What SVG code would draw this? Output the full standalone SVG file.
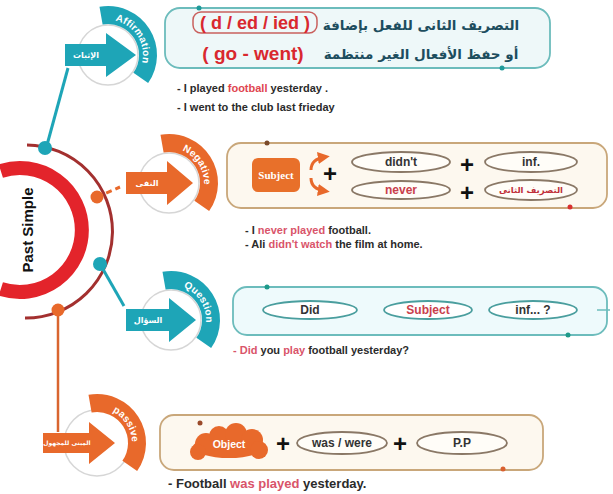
<svg xmlns="http://www.w3.org/2000/svg" width="613" height="494" viewBox="0 0 613 494">
<style>
.en{font-family:"Liberation Sans",Arial,sans-serif;font-weight:bold}
.ar{font-family:"DejaVu Sans",sans-serif;font-weight:bold}
.sent{font-size:11px;fill:#2b2b2b}
.red{fill:#e0454f}
.pink{fill:#d9546a}
.ring{fill:none;stroke:#d6d6d6;stroke-width:1.5}
.band{fill:none;stroke-width:18}
.bandtxt{font-size:10px;fill:#fff;letter-spacing:0.2px}
.lbl{font-size:8px;fill:#fff}
.lbl.sm{font-size:6px}
.plus{font-size:24px;fill:#111}
.elN{fill:#fffdf8;stroke:#8a7866;stroke-width:1.8}
.elQ{fill:#fff;stroke:#4a9e9e;stroke-width:1.8}
.etxt{font-size:12px;fill:#333}
.etxt.rd{fill:#c9404c}
.orng{fill:#e8692b}
</style>
<defs>
<path id="bandArc" d="M -6.95 -39.39 A 40 40 0 0 1 32.77 22.94"/>
<path id="txtArc" d="M -6.08 -34.47 A 35 35 0 0 1 28.67 20.08"/>
<marker id="ah" viewBox="0 0 10 10" refX="6" refY="5" markerWidth="4" markerHeight="4" orient="auto">
<path d="M0 0 L10 5 L0 10 z" fill="#e8692b"/>
</marker>
</defs>

<rect width="613" height="494" fill="#fff"/>

<!-- central hub -->
<g id="past-simple">
<path d="M 0.8 171 A 62 62 0 1 1 0.8 289" fill="none" stroke="#e3242b" stroke-width="14"/>
<text class="en" x="0" y="0" font-size="15" fill="#111" text-anchor="middle" transform="translate(33,230) rotate(-90)">Past Simple</text>
</g>

<!-- connectors -->
<g id="connectors">
<path d="M 27 145 A 86 86 0 0 1 25 318" fill="none" stroke="#a3302f" stroke-width="3"/>
<line x1="47" y1="145" x2="68" y2="68" stroke="#1ea5b7" stroke-width="3"/>
<line x1="97" y1="197" x2="120" y2="187" stroke="#e8692b" stroke-width="3" stroke-dasharray="6 4"/>
<line x1="100" y1="264" x2="124" y2="306" stroke="#1ea5b7" stroke-width="3"/>
<line x1="58" y1="310" x2="58" y2="432" stroke="#d9652f" stroke-width="2.5"/>
<circle cx="45" cy="148" r="7" fill="#1ea5b7"/>
<circle cx="97" cy="197" r="6.5" fill="#e8692b"/>
<circle cx="100" cy="264" r="7" fill="#1ea5b7"/>
<circle cx="58" cy="310" r="6.5" fill="#e8692b"/>
</g>

<!-- Affirmation -->
<g id="affirmation" transform="translate(108,55)">
<circle class="ring" r="30"/>
<use href="#bandArc" class="band" stroke="#1ea5b7"/>
<text class="en bandtxt"><textPath href="#txtArc" startOffset="50%" text-anchor="middle">Affirmation</textPath></text>
<path d="M -43 -11 H -2 V -22 L 28 0 L -2 22 V 11 H -43 z" fill="#1ea5b7"/>
<text class="ar lbl" x="-22" y="3" text-anchor="middle">الإثبات</text>
</g>
<g id="affirmation-box">
<rect x="165" y="8" width="385" height="60" rx="15" fill="#eef8f9" stroke="#6cbcbc" stroke-width="1.8"/>
<circle cx="199" cy="8" r="2.5" fill="#1e9a9a"/>
<circle cx="502" cy="68" r="2.5" fill="#1e9a9a"/>
<rect x="193" y="12" width="124" height="21" rx="8" fill="none" stroke="#c9605e" stroke-width="1.5"/>
<text class="en" x="255" y="29" font-size="18" fill="#d9282f" text-anchor="middle">( d / ed / ied )</text>
<text class="en" x="253" y="60" font-size="19" fill="#d9282f" text-anchor="middle">( go - went)</text>
<text class="ar" x="421" y="30" font-size="13.5" fill="#1d4e5f" text-anchor="middle">التصريف الثانى للفعل بإضافة</text>
<text class="ar" x="421" y="59" font-size="13.5" fill="#1d4e5f" text-anchor="middle">أو حفظ الأفعال الغير منتظمة</text>
<text class="en sent" x="177" y="92">- I played <tspan class="red">football</tspan> yesterday .</text>
<text class="en sent" x="177" y="111">- I went to the club last frieday</text>
</g>

<!-- Negative -->
<g id="negative" transform="translate(169,183)">
<circle class="ring" r="30"/>
<use href="#bandArc" class="band" stroke="#e8692b"/>
<text class="en bandtxt"><textPath href="#txtArc" startOffset="50%" text-anchor="middle">Negative</textPath></text>
<path d="M -43 -11 H -2 V -22 L 24 0 L -2 22 V 11 H -43 z" fill="#e8692b"/>
<text class="ar lbl" x="-22" y="3" text-anchor="middle">النفى</text>
</g>
<g id="negative-box">
<rect x="227" y="143" width="380" height="65" rx="14" fill="#fdf8ef" stroke="#c9a77a" stroke-width="1.8"/>
<circle cx="267" cy="143" r="2.5" fill="#7a4a2a"/>
<circle cx="570" cy="207" r="2.5" fill="#d9302f"/>
<rect x="252" y="158" width="48" height="34" rx="6" fill="#e8702a"/>
<text x="276" y="179" font-family="Liberation Serif,serif" font-weight="bold" font-size="11" fill="#fff" text-anchor="middle">Subject</text>
<path d="M 311 170 Q 311 159 325 157" fill="none" stroke="#e8692b" stroke-width="3" marker-end="url(#ah)"/>
<path d="M 311 178 Q 311 189 325 191" fill="none" stroke="#e8692b" stroke-width="3" marker-end="url(#ah)"/>
<text class="en plus" x="330" y="182" text-anchor="middle">+</text>
<ellipse class="elN" cx="401" cy="162" rx="49" ry="10"/>
<text class="en etxt" x="401" y="166" text-anchor="middle">didn't</text>
<text class="en plus" x="467" y="173" text-anchor="middle">+</text>
<ellipse class="elN" cx="531" cy="162" rx="46" ry="10"/>
<text class="en etxt" x="531" y="166" text-anchor="middle">inf.</text>
<ellipse class="elN" cx="401" cy="190" rx="49" ry="9"/>
<text class="en etxt rd" x="401" y="194" text-anchor="middle">never</text>
<text class="en plus" x="467" y="201" text-anchor="middle">+</text>
<ellipse class="elN" cx="531" cy="190" rx="46" ry="10"/>
<text class="ar" x="531" y="193" font-size="8.5" fill="#c0303a" text-anchor="middle">التصريف الثانى</text>
<text class="en sent" x="245" y="234">- I <tspan class="pink">never played</tspan> football.</text>
<text class="en sent" x="245" y="248">- Ali <tspan class="pink">didn't watch</tspan> the film at home.</text>
</g>

<!-- Question -->
<g id="question" transform="translate(171,320)">
<circle class="ring" r="30"/>
<use href="#bandArc" class="band" stroke="#1ea5b7"/>
<text class="en bandtxt"><textPath href="#txtArc" startOffset="50%" text-anchor="middle">Question</textPath></text>
<path d="M -45 -11 H -2 V -22 L 25 0 L -2 22 V 11 H -45 z" fill="#1ea5b7"/>
<text class="ar lbl" x="-23" y="3" text-anchor="middle">السؤال</text>
</g>
<g id="question-box">
<rect x="233" y="287" width="374" height="48" rx="14" fill="#eefafc" stroke="#6cbcbc" stroke-width="1.8"/>
<line x1="597" y1="310" x2="610" y2="310" stroke="#6cbcbc" stroke-width="1.5"/>
<circle cx="267" cy="287" r="2.5" fill="#1e9a8a"/>
<circle cx="568" cy="335" r="2.5" fill="#1e9a8a"/>
<ellipse class="elQ" cx="310" cy="310" rx="47" ry="9"/>
<text class="en etxt" x="310" y="314" text-anchor="middle">Did</text>
<ellipse class="elQ" cx="428" cy="310" rx="44" ry="9"/>
<text class="en etxt rd" x="428" y="314" text-anchor="middle">Subject</text>
<ellipse class="elQ" cx="533" cy="310" rx="44" ry="9"/>
<text class="en etxt" x="533" y="314" text-anchor="middle">inf... ?</text>
<text class="en sent" x="233" y="354"><tspan class="pink">- Did</tspan> you <tspan class="pink">play</tspan> football yesterday?</text>
</g>

<!-- Passive -->
<g id="passive" transform="translate(97,443)">
<circle class="ring" r="33"/>
<use href="#bandArc" class="band" stroke="#e8692b"/>
<text class="en bandtxt"><textPath href="#txtArc" startOffset="50%" text-anchor="middle">passive</textPath></text>
<path d="M -54 -10 H -8 V -21 L 18 0 L -8 21 V 10 H -54 z" fill="#e8692b"/>
<text class="ar lbl sm" x="-30" y="2" text-anchor="middle">المبنى للمجهول</text>
</g>
<g id="passive-box">
<rect x="160" y="415" width="383" height="55" rx="14" fill="#fdf8ef" stroke="#c9a77a" stroke-width="1.8"/>
<circle cx="200" cy="423" r="2.5" fill="#9a4a2a"/>
<circle cx="503" cy="469" r="2.5" fill="#d9602f"/>
<g class="orng">
<ellipse cx="229" cy="447" rx="36" ry="11"/>
<circle cx="206" cy="444" r="11"/>
<circle cx="219" cy="436" r="10"/>
<circle cx="236" cy="434" r="11"/>
<circle cx="252" cy="440" r="11"/>
<circle cx="259" cy="450" r="9"/>
<circle cx="198" cy="452" r="8"/>
</g>
<text class="en" x="229" y="448" font-size="10.5" fill="#fff" text-anchor="middle">Object</text>
<text class="en plus" x="283" y="452" text-anchor="middle">+</text>
<ellipse class="elN" cx="342" cy="443" rx="45" ry="11"/>
<text class="en etxt" x="342" y="447" text-anchor="middle">was / were</text>
<text class="en plus" x="400" y="452" text-anchor="middle">+</text>
<ellipse class="elN" cx="462" cy="443" rx="45" ry="11"/>
<text class="en etxt" x="462" y="447" text-anchor="middle">P.P</text>
<text class="en sent" x="168" y="488" style="font-size:13px">- Football <tspan class="pink">was played</tspan> yesterday.</text>
</g>
</svg>
